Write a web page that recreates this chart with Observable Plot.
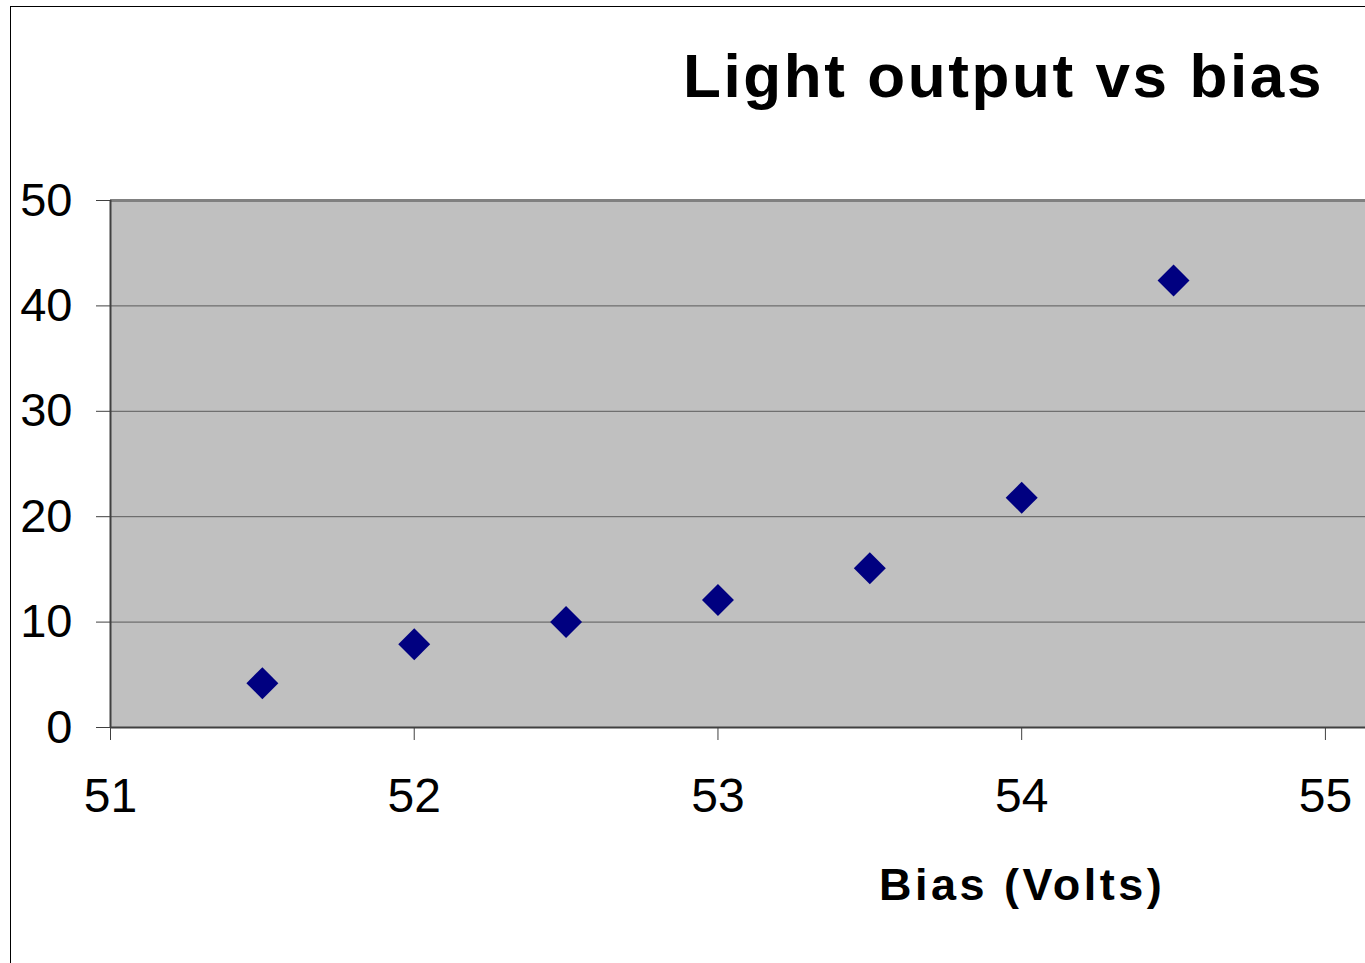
<!DOCTYPE html>
<html>
<head>
<meta charset="utf-8">
<script src="https://cdn.jsdelivr.net/npm/d3@7"></script>
<script src="https://cdn.jsdelivr.net/npm/@observablehq/plot@0.6"></script>
<style>
  html, body { margin: 0; padding: 0; background: #fff; }
  #wrap { position: relative; width: 1365px; height: 963px; overflow: hidden; font-family: "Liberation Sans", Arial, sans-serif; }
  #border { position: absolute; left: 10px; top: 6px; width: 2000px; height: 2000px; border: 1px solid #000; box-sizing: border-box; }
  #chart { position: absolute; left: 0; top: 0; }
  .title { position: absolute; left: 683px; top: 45px; font-size: 62px; line-height: 62px; font-weight: bold; letter-spacing: 2.6px; white-space: nowrap; color: #000; }
  .xlabel { position: absolute; left: 879px; top: 862px; font-size: 45px; line-height: 45px; font-weight: bold; letter-spacing: 3.5px; white-space: nowrap; color: #000; }
</style>
</head>
<body>
<div id="wrap">
  <div id="border"></div>
  <div id="chart"></div>
  <div class="title">Light output vs bias</div>
  <div class="xlabel">Bias (Volts)</div>
</div>
<script>
const bias = [51.5, 52, 52.5, 53, 53.5, 54, 54.5];
const light = [4.2, 7.9, 10.0, 12.1, 15.1, 21.8, 42.4];
const xTicks = [51, 52, 53, 54, 55];
const yTicks = [0, 10, 20, 30, 40, 50];
const gridValues = [10, 20, 30, 40];

const data = bias.map((b, i) => ({bias: b, light: light[i]}));

const chart = Plot.plot({
  width: 1365,
  height: 963,
  marginLeft: 110,
  marginRight: 0,
  marginTop: 200,
  marginBottom: 236,
  style: {fontFamily: "'Liberation Sans', Arial, sans-serif", background: "transparent", overflow: "visible"},
  x: {domain: [51, 55.132], ticks: xTicks},
  y: {domain: [0, 50], ticks: yTicks},
  marks: [
    Plot.frame({fill: "#c0c0c0", stroke: null}),
    Plot.ruleY(gridValues, {stroke: "#5a5a5a", strokeWidth: 1}),
    Plot.ruleY([50], {stroke: "#808080", strokeWidth: 3}),
    Plot.ruleY([0], {stroke: "#404040", strokeWidth: 2}),
    Plot.ruleX([51], {stroke: "#404040", strokeWidth: 2}),
    Plot.axisY({ticks: yTicks, tickSize: 14, tickPadding: 24, fontSize: 47, label: null, stroke: "#404040", color: "#000", tickFormat: d => String(d)}),
    Plot.axisX({ticks: xTicks, tickSize: 13, tickPadding: 37, fontSize: 48, label: null, stroke: "#404040", color: "#000", tickFormat: d => String(d)}),
    Plot.dot(data, {x: "bias", y: "light", symbol: "diamond2", r: 14.4, fill: "#000080", stroke: null})
  ]
});
document.getElementById("chart").appendChild(chart);
</script>
</body>
</html>
